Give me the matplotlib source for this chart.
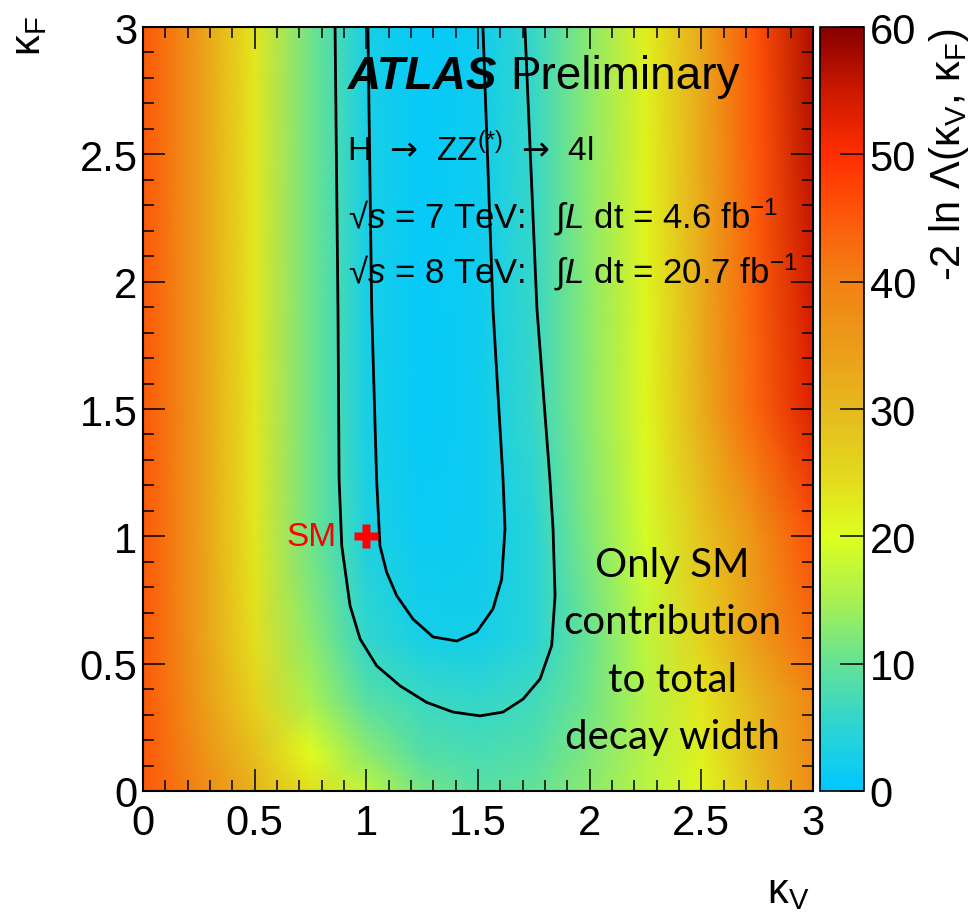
import numpy as np
import matplotlib
matplotlib.use("Agg")
import matplotlib.pyplot as plt
from matplotlib.colors import LinearSegmentedColormap

### -2 ln Lambda values (rows: kF, columns: kV)
kv_grid = [0, 0.25, 0.5, 0.75, 1.0, 1.25, 1.5, 1.75, 2.0, 2.25, 2.5, 2.75, 3.0]
kf_grid = [0, 0.15, 0.35, 0.6, 1.0, 1.5, 3.0]
nll = [
    [45, 39, 31, 24, 17, 11.5, 9, 10, 13, 16.5, 21, 29, 38],
    [45, 37.5, 29, 20.5, 13, 8.5, 7.5, 8.5, 12, 16, 22, 30, 38],
    [45, 36, 26, 15, 9, 6.5, 5.8, 7, 11, 16, 23, 31, 39],
    [45, 35, 24, 13, 5.5, 2.8, 2.5, 4.5, 10.5, 17, 26, 35, 43],
    [45, 35, 23, 11, 3.5, 1.2, 1.8, 4.5, 12, 19, 28, 37, 46],
    [45, 35, 23, 11, 3, 0.8, 1.8, 6, 13, 21, 32, 44, 53],
    [45, 35, 23, 11, 3, 0.8, 1.8, 6, 13, 22, 33, 46, 57],
]

### 95% and 68% CL contours (traced)
outer_kv = [0.860, 0.873, 0.878, 0.890, 0.927, 0.972, 1.046, 1.151, 1.270, 1.388,
            1.509, 1.612, 1.702, 1.778, 1.830, 1.845, 1.836, 1.822, 1.764, 1.710]
outer_kf = [3.0, 1.893, 1.225, 0.963, 0.728, 0.597, 0.492, 0.413, 0.348, 0.310,
            0.295, 0.310, 0.361, 0.440, 0.571, 0.767, 1.029, 1.225, 1.893, 3.0]
inner_kv = [1.007, 1.024, 1.046, 1.061, 1.091, 1.136, 1.209, 1.299, 1.405, 1.494,
            1.567, 1.606, 1.621, 1.612, 1.567, 1.522]
inner_kf = [3.0, 1.893, 1.225, 0.963, 0.859, 0.767, 0.675, 0.605, 0.589, 0.624,
            0.715, 0.832, 1.029, 1.225, 1.893, 3.0]

sm_point = (1.0, 1.0)
note_lines = ["Only SM", "contribution", "to total", "decay width"]

### colour palette (value, rgb)
palette = [(0, (0, 200, 255)), (5, (45, 213, 210)), (10, (100, 226, 150)),
           (15, (170, 240, 80)), (20, (222, 255, 30)), (25, (228, 215, 30)),
           (30, (230, 185, 30)), (35, (236, 155, 25)), (40, (242, 130, 20)),
           (45, (252, 90, 10)), (50, (255, 45, 0)), (55, (205, 25, 0)),
           (60, (135, 0, 0))]
cmap = LinearSegmentedColormap.from_list(
    "root", [(v/60, tuple(c/255 for c in rgb)) for v, rgb in palette])

plt.rcParams.update({"font.family": ["Liberation Sans", "DejaVu Sans"],
                     "mathtext.fontset": "custom",
                     "mathtext.rm": "Liberation Sans",
                     "mathtext.it": "Liberation Sans:italic",
                     "mathtext.bf": "Liberation Sans:bold",
                     "mathtext.sf": "DejaVu Sans",
                     "mathtext.fallback": "stixsans"})

fig = plt.figure(figsize=(9.8, 9.2), dpi=100)
ax = fig.add_axes([143/980, 1-792/920, 670/980, 764/920])
cax = fig.add_axes([820/980, 1-792/920, 44/980, 764/920])

X, Y = np.meshgrid(kv_grid, kf_grid)
mesh = ax.pcolormesh(X, Y, np.array(nll), cmap=cmap, vmin=0, vmax=60,
                     shading="gouraud", rasterized=True)

ax.plot(outer_kv, outer_kf, color="black", lw=2.0)
ax.plot(inner_kv, inner_kf, color="black", lw=2.0)

ax.plot(*sm_point, marker="P", color="#ff0000", ms=17, mec="none", zorder=5)
ax.text(0.865, 1.0, "SM", color="#ff0000", fontsize=24, ha="right", va="center")

### labels in the plot
atlas = ax.text(0.918, 2.762, "ATLAS", fontsize=33, fontweight="bold",
                fontstyle="italic", va="baseline")
ax.annotate("Preliminary", xy=(1, 0), xycoords=atlas, xytext=(9, 0),
            textcoords="offset points", fontsize=33, va="bottom")
ax.text(0.913, 2.48, "H  $\\mathsf{→}$  ZZ$^{(*)}$  $\\mathsf{→}$  4l", fontsize=24,
        va="baseline")
ax.text(0.918, 2.215, "√$s$ = 7 TeV:   ∫$L$ dt = 4.6 fb$^{-1}$",
        fontsize=25, va="baseline")
ax.text(0.918, 1.999, "√$s$ = 8 TeV:   ∫$L$ dt = 20.7 fb$^{-1}$",
        fontsize=25, va="baseline")

note_y = [(792-577)/254.67, (792-634)/254.67, (792-692)/254.67, (792-749)/254.67]
for txt, yy in zip(note_lines, note_y):
    ax.text(2.37, yy, txt, fontsize=29, family="Lato", ha="center", va="baseline")

### axes styling, ROOT-like
ax.set_xlim(0, 3)
ax.set_ylim(0, 3)
ax.set_xticks(np.arange(0, 3.01, 0.5))
ax.set_yticks(np.arange(0, 3.01, 0.5))
ax.set_xticklabels(["0", "0.5", "1", "1.5", "2", "2.5", "3"])
ax.set_yticklabels(["0", "0.5", "1", "1.5", "2", "2.5", "3"])
ax.set_xticks(np.arange(0, 3.01, 0.1), minor=True)
ax.set_yticks(np.arange(0, 3.01, 0.1), minor=True)
ax.tick_params(which="both", direction="in", top=True, right=True, width=1.1)
ax.tick_params(which="major", length=16, labelsize=30)
ax.tick_params(axis="x", which="major", pad=9)
ax.tick_params(axis="y", which="major", pad=4)
ax.tick_params(which="minor", length=8)
for sp in ax.spines.values():
    sp.set_linewidth(1.5)

ax.set_xlabel("κ$_{\\mathrm{V}}$", fontsize=30, loc="right")
ax.xaxis.set_label_coords(0.995, -0.105)
ax.set_ylabel("κ$_{\\mathrm{F}}$", fontsize=30, loc="top")
ax.yaxis.set_label_coords(-0.14, 1.015)

cb = fig.colorbar(mesh, cax=cax)
cb.set_ticks(np.arange(0, 61, 10))
cb.ax.tick_params(direction="in", length=17, width=1.1, labelsize=30, pad=4)
cb.outline.set_linewidth(1.2)
cb.set_label("-2 ln Λ(κ$_{\\mathrm{V}}$, κ$_{\\mathrm{F}}$)", fontsize=30, loc="top",
             labelpad=8)

fig.savefig("out.png", dpi=100)
